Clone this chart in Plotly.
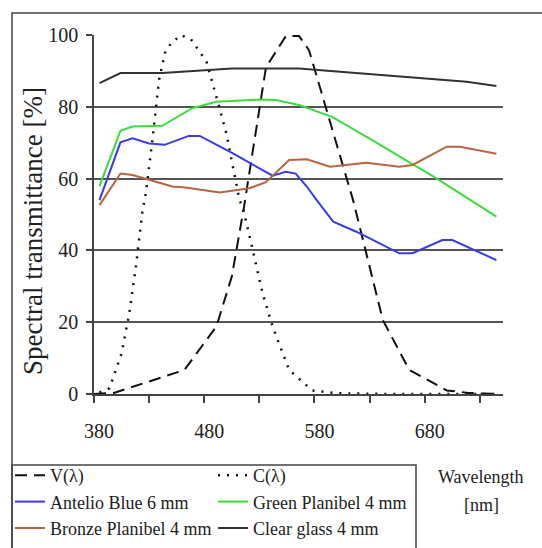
import plotly.graph_objects as go

# ---- data ----
v_nm = [380, 398, 462, 491, 505, 516, 536, 545, 554, 566, 575, 615, 642, 666, 700, 720, 745]
v_val = [0, 0.3, 6.7, 18.8, 32.7, 52, 91, 95.3, 99.7, 99.7, 95.8, 54, 20.6, 6.7, 1, 0.3, 0]

c_nm = [385, 394, 405, 412, 418, 424, 427, 433, 439, 445, 451, 459, 468, 482, 491, 500, 506, 512, 515, 524, 533, 542, 557, 578, 600, 650, 700, 745]
c_val = [0.4, 1.6, 11.3, 22.5, 35.5, 51, 55.9, 70.8, 87.5, 95.8, 98, 100, 98.8, 92.6, 82.8, 72.7, 63.3, 54, 52, 40, 28, 18.8, 6.7, 1, 0.2, 0, 0, 0]

blue_nm = [385, 404, 415, 430, 444, 466, 476, 506, 542, 554, 563, 573, 582, 597, 618, 636, 657, 669, 696, 705, 745]
blue_val = [54, 70.1, 71.2, 69.8, 69.4, 71.9, 71.9, 67, 60.8, 61.9, 61.4, 57.8, 54, 48, 45.2, 42.4, 39.2, 39.2, 42.9, 42.9, 37.3]

green_nm = [385, 404, 415, 442, 469, 491, 530, 545, 566, 596, 627, 691, 745]
green_val = [57.9, 73.3, 74.5, 74.7, 79.6, 81.4, 82, 81.9, 80.5, 77.2, 71.7, 60, 49.4]

bronze_nm = [385, 404, 415, 430, 451, 463, 494, 521, 536, 557, 573, 594, 627, 657, 669, 700, 712, 745]
bronze_val = [52.6, 61.4, 61, 59.6, 57.8, 57.5, 56.1, 57.3, 59, 65.2, 65.4, 63.3, 64.4, 63.3, 63.8, 68.9, 68.9, 66.9]

clear_nm = [385, 404, 442, 487, 505, 566, 596, 657, 718, 745]
clear_val = [86.6, 89.4, 89.4, 90.2, 90.7, 90.7, 90, 88.4, 87, 85.8]

x_ticks = [380, 430, 480, 530, 580, 630, 680, 730]
x_labels = ["380", "", "480", "", "580", "", "680", ""]
y_ticks = [0, 20, 40, 60, 80, 100]

SERIF = "Liberation Serif"
INK = "#222222"

fig = go.Figure()
fig.add_trace(go.Scatter(x=v_nm, y=v_val, mode="lines", name="V(λ)",
                         line=dict(color="#111111", width=2, dash="12px,7px")))
fig.add_trace(go.Scatter(x=c_nm, y=c_val, mode="lines", name="C(λ)",
                         line=dict(color="#111111", width=2.5, dash="2px,7px")))
fig.add_trace(go.Scatter(x=blue_nm, y=blue_val, mode="lines", name="Antelio Blue 6 mm",
                         line=dict(color="#3a3ae6", width=2)))
fig.add_trace(go.Scatter(x=green_nm, y=green_val, mode="lines", name="Green Planibel 4 mm",
                         line=dict(color="#3ddc3d", width=2)))
fig.add_trace(go.Scatter(x=bronze_nm, y=bronze_val, mode="lines", name="Bronze Planibel 4 mm",
                         line=dict(color="#b8653f", width=2)))
fig.add_trace(go.Scatter(x=clear_nm, y=clear_val, mode="lines", name="Clear glass 4 mm",
                         line=dict(color="#333333", width=2)))

L, R, T, B = 94, 39, 35, 154
W, H = 542, 548
pw, ph = W - L - R, H - T - B

def px(x):
    return (x - L) / pw

def py(y):
    return (H - B - y) / ph

fig.update_layout(
    width=W, height=H,
    margin=dict(l=L, r=R, t=T, b=B, autoexpand=False),
    paper_bgcolor="white", plot_bgcolor="white",
    font=dict(family=SERIF, color=INK),
    showlegend=True,
    legend=dict(
        orientation="h", x=px(10), y=py(457), xanchor="left", yanchor="top",
        entrywidth=158, entrywidthmode="pixels",
        font=dict(family=SERIF, size=18, color=INK),
        borderwidth=0, bgcolor="rgba(0,0,0,0)",
        tracegroupgap=0, itemwidth=30,
    ),
    xaxis=dict(
        range=[380, 751], tickmode="array", tickvals=x_ticks, ticktext=x_labels,
        ticks="outside", ticklen=7, tickwidth=1.5, tickcolor="#444444",
        showline=True, linecolor="#444444", linewidth=1.5,
        showgrid=False, zeroline=False, automargin=False,
        tickfont=dict(family=SERIF, size=20, color=INK),
        ticklabelstandoff=11, ticklabelshift=5,
    ),
    yaxis=dict(
        range=[0, 100], tickmode="array", tickvals=y_ticks,
        ticks="outside", ticklen=6, tickwidth=1.5, tickcolor="#444444",
        showline=True, linecolor="#444444", linewidth=1.5,
        showgrid=True, gridcolor="#555555", gridwidth=1.5, zeroline=False,
        automargin=False,
        tickfont=dict(family=SERIF, size=20, color=INK),
        ticklabelstandoff=4,
    ),
    shapes=[
        dict(type="rect", xref="paper", yref="paper",
             x0=px(12), x1=px(560), y0=py(570), y1=py(13),
             line=dict(color="#444444", width=1.5), fillcolor="rgba(0,0,0,0)", layer="below"),
        dict(type="rect", xref="paper", yref="paper",
             x0=px(12), x1=px(416), y0=py(570), y1=py(465),
             line=dict(color="#444444", width=1.5), fillcolor="rgba(0,0,0,0)", layer="below"),
    ],
    annotations=[
        dict(text="Spectral transmittance [%]", xref="paper", yref="paper",
             x=px(33), y=py(231), textangle=-90, showarrow=False,
             font=dict(family=SERIF, size=27, color=INK),
             xanchor="center", yanchor="middle"),
        dict(text="Wavelength", xref="paper", yref="paper", x=px(481), y=py(477),
             showarrow=False, font=dict(family=SERIF, size=18, color=INK),
             xanchor="center", yanchor="middle"),
        dict(text="[nm]", xref="paper", yref="paper", x=px(481), y=py(505),
             showarrow=False, font=dict(family=SERIF, size=18, color=INK),
             xanchor="center", yanchor="middle"),
    ],
)

fig.write_html("out.html", config={"displayModeBar": False},
               post_script="document.body.style.margin='0';")
